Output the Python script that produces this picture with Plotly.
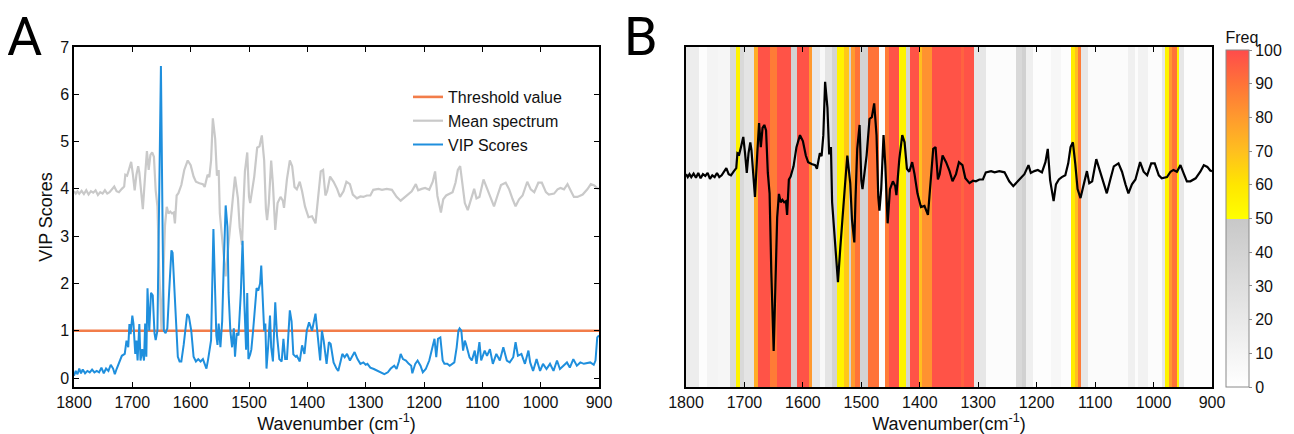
import plotly.graph_objects as go

# ---------------- data ----------------
# Panel A: VIP scores (wavenumber, value)
vip_wn = [1800,1797,1794,1791,1788,1785,1781,1777,1773,1769,1765,1761,1757,1753,1749,1745,1741,1737,1733,1730,
          1727,1721,1718,1713,1710,1707,1705,1703,1700,1698,1695,1693,1691,1688,1686,1683,1680,1678,1676,1674,
          1671,1668,1665,1662,1660,1657,1654,1651,1648,1646,1643,1640,1637,1633,1631,1628,1625,1622,1619,1616,
          1612,1609,1606,1603,1599,1595,1591,1587,1583,1579,1576,1573,1570,1567,1565,1561,1558,1556,1554,1552,
          1549,1546,1543,1540,1537,1535,1532,1529,1526,1524,1521,1518,1514,1511,1508,1505,1503,1501,1498,1496,
          1493,1490,1487,1484,1481,1479,1476,1474,1472,1470,1467,1464,1462,1459,1455,1452,1448,1444,1441,1438,
          1435,1432,1430,1427,1424,1420,1418,1413,1409,1405,1401,1397,1392,1386,1382,1378,1375,1372,1367,1363,
          1360,1355,1350,1347,1343,1340,1336,1332,1327,1323,1319,1314,1309,1304,1300,1297,1292,1286,1280,1274,
          1268,1262,1257,1251,1247,1243,1240,1236,1231,1226,1222,1220,1215,1211,1206,1202,1197,1191,1186,1182,
          1179,1176,1172,1168,1165,1160,1156,1152,1148,1144,1141,1139,1136,1133,1130,1128,1124,1122,1118,1113,
          1110,1105,1102,1096,1092,1087,1082,1076,1070,1064,1058,1053,1047,1043,1039,1033,1027,1021,1018,1013,
          1007,1001,996,990,984,978,972,967,961,955,950,944,938,932,926,921,915,909,906,903,900]
vip_val = [0.05,0.15,0.08,0.2,0.1,0.18,0.1,0.15,0.12,0.18,0.12,0.15,0.12,0.22,0.1,0.2,0.15,0.28,0.2,0.08,
           0.19,0.37,0.47,0.51,0.79,0.65,1.14,0.93,1.32,1.14,0.51,0.79,0.37,1.14,0.37,0.61,0.37,1.15,0.45,1.9,
           1.0,1.8,1.75,0.95,0.8,1.0,3.5,6.6,3.0,1.0,0.95,1.05,1.8,2.7,2.65,1.8,1.0,0.45,0.35,0.35,
           0.7,1.1,1.35,1.3,1.0,0.45,0.35,0.4,0.35,0.4,0.3,0.2,0.4,0.7,0.8,3.15,1.6,0.9,0.7,1.15,
           0.65,1.2,2.5,3.65,3.2,1.8,1.0,0.65,1.05,0.45,0.95,0.9,1.8,2.9,1.6,0.6,1.8,0.4,0.5,0.6,
           1.0,1.5,1.9,1.85,2.0,2.38,1.5,1.0,1.15,0.2,0.7,1.32,0.65,0.35,1.6,0.9,0.4,0.35,0.83,0.4,
           0.4,1.0,1.43,1.2,0.5,0.45,0.47,0.35,0.69,0.51,1.0,1.18,1.0,1.36,0.79,0.37,1.0,0.79,0.3,0.76,
           0.72,0.33,0.2,0.15,0.35,0.51,0.44,0.51,0.37,0.45,0.55,0.4,0.3,0.33,0.28,0.3,0.22,0.19,0.15,0.12,
           0.08,0.12,0.2,0.26,0.19,0.35,0.51,0.4,0.37,0.3,0.26,0.1,0.3,0.37,0.26,0.12,0.19,0.37,0.6,0.83,
           0.44,0.83,0.86,0.37,0.3,0.3,0.26,0.3,0.33,0.65,1.0,1.05,1.0,0.58,0.79,0.72,0.55,0.44,0.37,0.58,
           0.3,0.76,0.37,0.58,0.47,0.61,0.3,0.51,0.37,0.65,0.37,0.33,0.44,0.76,0.47,0.51,0.3,0.58,0.33,0.15,
           0.4,0.15,0.3,0.19,0.3,0.15,0.37,0.19,0.26,0.33,0.22,0.4,0.26,0.33,0.3,0.31,0.33,0.28,0.37,0.86,0.9]

# Mean spectrum (shared by both panels)
mean_wn = [1800,1797,1794,1791,1787,1783,1779,1775,1771,1767,1763,1759,1755,1751,1747,1743,1739,1735,1731,1727,
           1723,1718,1714,1712,1709,1706,1702,1699,1696,1693,1690,1688,1685,1682,1678,1675,1672,1669,1666,1663,
           1660,1657,1654,1650,1647,1644,1641,1638,1635,1632,1629,1627,1624,1621,1616,1611,1605,1600,1595,1591,
           1585,1579,1576,1571,1568,1565,1562,1558,1555,1552,1550,1545,1540,1536,1532,1528,1524,1519,1516,1512,
           1510,1507,1503,1500,1498,1495,1491,1486,1482,1478,1474,1471,1469,1466,1462,1459,1455,1451,1446,1442,
           1440,1435,1430,1426,1422,1418,1413,1409,1404,1398,1392,1386,1382,1377,1373,1369,1366,1361,1355,1349,
           1344,1338,1333,1327,1322,1315,1309,1304,1298,1292,1287,1278,1272,1264,1255,1247,1240,1235,1230,1221,
           1214,1210,1204,1198,1191,1185,1181,1177,1171,1167,1162,1157,1151,1146,1142,1138,1134,1130,1125,1120,
           1114,1110,1105,1098,1091,1085,1080,1074,1068,1060,1054,1048,1043,1037,1031,1023,1017,1011,1004,998,
           991,986,977,971,966,960,954,948,943,937,928,920,914,908,903,900]
mean_val = [3.95,3.9,3.95,3.9,3.96,3.89,3.97,3.88,3.95,3.92,3.97,3.87,3.93,3.9,3.97,3.9,3.93,4.0,4.05,3.95,
            3.93,4.0,4.05,4.3,4.28,4.4,4.57,4.3,3.97,4.3,4.48,4.35,3.86,3.57,4.3,4.8,4.4,4.72,4.77,4.68,
            3.97,3.63,2.3,1.0,2.1,3.23,3.62,3.48,3.52,3.48,3.5,3.27,3.86,3.91,4.08,4.4,4.6,4.5,4.26,4.15,
            4.12,4.1,4.04,4.3,4.25,4.6,5.49,5.06,4.28,4.4,3.48,2.84,2.15,2.72,3.3,3.76,4.26,3.8,3.19,2.81,
            3.53,4.37,4.77,3.84,3.7,3.91,4.26,4.87,4.9,5.13,4.6,3.57,3.34,3.7,4.6,4.1,3.13,3.7,3.83,3.75,
            3.6,4.2,4.6,4.48,4.04,3.99,4.15,3.95,3.63,3.4,3.42,3.27,3.7,4.37,4.4,3.86,3.95,4.26,4.15,4.0,
            3.83,3.95,4.15,4.1,3.88,3.8,3.84,3.83,3.86,3.86,3.98,4.0,3.98,4.0,3.98,3.83,3.75,3.8,3.85,3.95,
            4.1,3.97,4.0,4.02,3.98,4.15,4.37,3.85,3.5,3.78,3.86,3.9,3.93,4.13,4.4,4.48,4.13,3.7,3.55,3.78,
            4.0,3.8,3.83,4.2,3.99,3.78,3.63,3.86,4.08,4.13,3.99,3.78,3.63,3.78,3.86,4.15,3.99,3.93,4.13,4.13,
            3.93,3.88,3.9,3.99,4.02,3.99,4.1,3.95,3.83,3.83,3.88,3.99,4.1,4.07,4.01,4.0]

threshold_value = 1.0

# Panel B: selection frequency bands (edges in cm-1, descending) and frequency (%)
band_edges = [1800,1793,1778,1764,1745,1724,1714,1708,1700,1684,1677,1656,1644,1621,1610,1590,1584,1570,1562,1551,
              1541,1530,1521,1517,1510,1503,1488,1470,1460,1453,1436,1423,1417,1401,1396,1379,1330,1324,1308,1286,
              1235,1225,1218,1206,1175,1158,1141,1135,1130,1124,1113,1044,1032,1026,1009,986,980,974,968,960,
              956,948,900]
band_freq = [20,16,2,10,8,35,55,35,25,75,98,88,98,40,98,80,20,6,25,40,
             55,68,40,80,90,40,90,3,88,98,55,40,98,70,82,98,94,98,22,3,
             35,42,15,2,7,2,58,70,88,22,4,14,3,12,3,22,55,80,90,55,
             22,2]

x_ticks = [1800,1700,1600,1500,1400,1300,1200,1100,1000,900]

# ---------------- styling ----------------
# the page body keeps an 8 px default margin, so the figure is 8 px smaller
OFF = 8
W, H = 1294 - OFF, 434 - OFF
FONT = "Arial, Liberation Sans, sans-serif"
BLUE = "#1f8fdd"
ORANGE = "#f27d4a"
GRAY = "#c9c9c9"


def px(x):
    return (x - OFF) / W


def py(y):
    return 1 - (y - OFF) / H


fig = go.Figure()

# Panel A traces
fig.add_trace(go.Scatter(x=mean_wn, y=mean_val, mode="lines", name="Mean spectrum",
                         line=dict(color=GRAY, width=2.2), legendrank=2, xaxis="x", yaxis="y"))
fig.add_trace(go.Scatter(x=[x_ticks[0], x_ticks[-1]], y=[threshold_value, threshold_value], mode="lines",
                         name="Threshold value", line=dict(color=ORANGE, width=2.6), legendrank=1,
                         xaxis="x", yaxis="y"))
fig.add_trace(go.Scatter(x=vip_wn, y=vip_val, mode="lines", name="VIP Scores",
                         line=dict(color=BLUE, width=2), legendrank=3, xaxis="x", yaxis="y"))

# Panel B heatmap stripes
edges_asc = band_edges[::-1]
freq_asc = band_freq[::-1]
colorscale = [[0.0, "#ffffff"], [0.5, "#c8c8c8"], [0.5, "#ffff00"], [0.6, "#ffe600"],
              [0.7, "#ffbf1f"], [0.8, "#ff9a2e"], [0.9, "#ff7338"], [1.0, "#ff4b4b"]]
fig.add_trace(go.Heatmap(x=edges_asc, y=[-10, 20], z=[freq_asc], zmin=0, zmax=100,
                         colorscale=colorscale, showscale=True, xaxis="x2", yaxis="y2",
                         hoverinfo="skip",
                         colorbar=dict(x=px(1226), xanchor="left", xpad=0, ypad=0,
                                       y=py(387), yanchor="bottom", len=(387 - 28) / H, lenmode="fraction",
                                       thickness=23, thicknessmode="pixels",
                                       outlinecolor="#8a8a8a", outlinewidth=1,
                                       tickvals=list(range(0, 101, 10)), ticks="outside", ticklen=3,
                                       tickcolor="#8a8a8a",
                                       tickfont=dict(family=FONT, size=16, color="#111"),
                                       title=dict(text="Freq", side="top",
                                                  font=dict(family=FONT, size=16, color="#111")))))
fig.add_trace(go.Scatter(x=mean_wn, y=mean_val, mode="lines", showlegend=False,
                         line=dict(color="#000000", width=2.2), xaxis="x2", yaxis="y2"))

axis_common = dict(showline=True, linecolor="black", linewidth=1.5, mirror="allticks",
                   ticks="inside", ticklen=5, tickwidth=1.3, tickcolor="black",
                   showgrid=False, zeroline=False, automargin=False,
                   tickfont=dict(family=FONT, size=16, color="#111"))

fig.update_layout(
    width=W, height=H, autosize=False,
    margin=dict(l=0, r=0, t=0, b=0, autoexpand=False),
    paper_bgcolor="white", plot_bgcolor="white",
    font=dict(family=FONT, size=16, color="#111"),
    xaxis=dict(domain=[px(74), px(599)], range=[1800, 900], tickvals=x_ticks, anchor="y",
               title=dict(text="Wavenumber (cm<sup>-1</sup>)", standoff=4,
                          font=dict(family=FONT, size=18, color="#111")),
               **axis_common),
    yaxis=dict(domain=[py(387), py(47)], range=[-0.19, 7], tickvals=list(range(0, 8)), anchor="x",
               title=dict(text="VIP Scores", standoff=3, font=dict(family=FONT, size=18, color="#111")),
               **axis_common),
    xaxis2=dict(domain=[px(686), px(1212)], range=[1800, 900], tickvals=x_ticks, anchor="y2",
                title=dict(text="Wavenumber(cm<sup>-1</sup>)", standoff=4,
                           font=dict(family=FONT, size=18, color="#111")),
                **axis_common),
    yaxis2=dict(domain=[py(387), py(47)], range=[0.40, 6.07], anchor="x2", showticklabels=False,
                showline=True, linecolor="black", linewidth=1.5, mirror=True, ticks="",
                showgrid=False, zeroline=False, automargin=False),
    legend=dict(x=px(408), y=py(80), xanchor="left", yanchor="top", bgcolor="rgba(0,0,0,0)",
                font=dict(family=FONT, size=16, color="#111"), tracegroupgap=0),
    showlegend=True,
    annotations=[
        dict(text="A", x=px(24), y=py(36), xref="paper", yref="paper", xanchor="center", yanchor="middle",
             showarrow=False, font=dict(family="Roboto, " + FONT, size=54, color="#000")),
        dict(text="B", x=px(641), y=py(36), xref="paper", yref="paper", xanchor="center", yanchor="middle",
             showarrow=False, font=dict(family="Roboto, " + FONT, size=54, color="#000")),
    ],
)

fig.write_html("out.html")
